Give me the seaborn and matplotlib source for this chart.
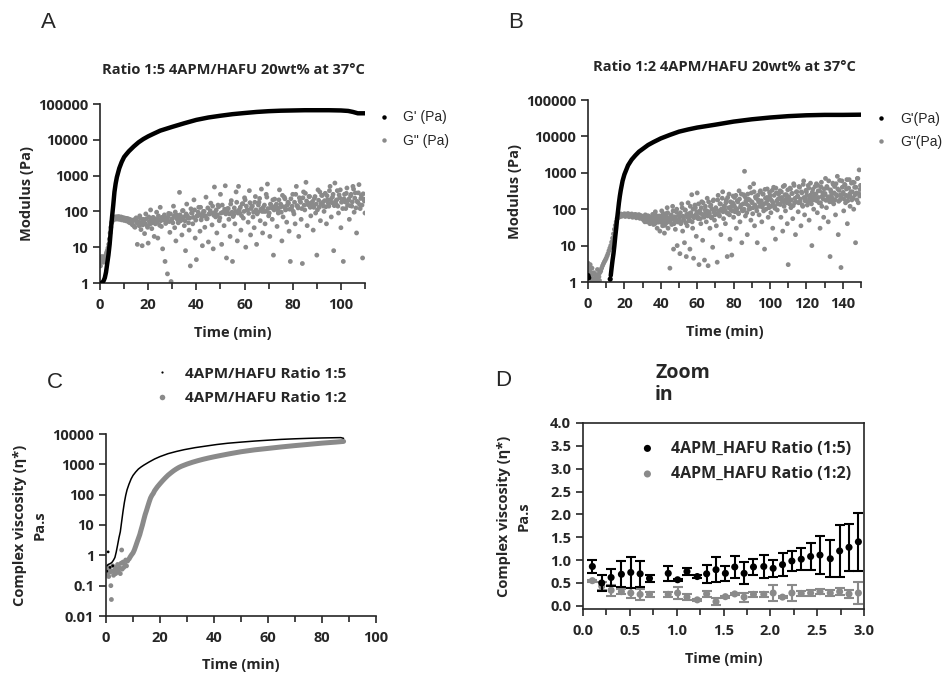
import numpy as np
import pandas as pd
import seaborn as sns
import matplotlib.pyplot as plt
from matplotlib.lines import Line2D
from matplotlib.ticker import MultipleLocator

# ---------------- data ----------------
# Panel A: ratio 1:5
a_gp_t = [0.5, 1.0, 1.5, 2.0, 2.5, 3.0, 3.5, 4.0, 4.5, 5.0, 5.5, 6.0, 6.5, 7.0, 7.5, 8.0,
          9.0, 10, 11, 12, 14, 16, 18, 20, 22, 25, 30, 35, 40, 45, 50, 55, 60, 65,
          70, 75, 80, 85, 90, 95, 100, 103, 105, 107, 110]
a_gp_v = [1.0, 1.05, 1.15, 1.4, 2.0, 3.5, 6, 12, 30, 70, 150, 350, 600, 900, 1200, 1600,
          2400, 3300, 4000, 4800, 6500, 8500, 10500, 12500, 14500, 18000, 23000, 29000,
          36000, 42000, 47000, 52000, 56000, 60000, 63000, 65000, 66000, 67000, 67000,
          67000, 66000, 64000, 60000, 55000, 55000]

a_gpp_early_t = [0.0, 0.3, 0.6, 0.9, 1.2, 1.5, 1.8, 2.1, 2.4, 2.7, 3.0, 3.3, 3.6, 3.9, 4.2,
                 4.5, 4.8, 0.2, 0.8, 1.4, 2.0]
a_gpp_early_v = [3.5, 4.5, 4.0, 5.0, 4.5, 5.0, 4.2, 5.5, 6.0, 7.0, 8.0, 9.5, 12, 17, 25,
                 36, 48, 3.0, 5.5, 3.8, 4.8]
# plateau, every 0.25 min from 5 min
a_gpp_plateau_v = [52, 62, 58, 70, 60, 68, 63, 71, 61, 69, 64, 72, 60, 68, 62, 70,
                   58, 67, 60, 66, 56, 65, 58, 64, 54, 63, 55, 62, 50, 60, 48, 58]
# scattered part, every 0.5 min from 13 min
a_gpp_scatter_v = [
    50, 42, 58, 36, 66, 12, 47, 75, 31, 11,
    60, 24, 85, 40, 13, 52, 110, 33, 68, 20,
    45, 95, 18, 57, 130, 38, 9, 72, 4, 50,
    1.8, 88, 26, 1.1, 62, 140, 35, 15, 78, 48,
    340, 55, 22, 105, 40, 8, 160, 66, 30, 3,
    90, 45, 210, 18, 4.5, 75, 130, 28, 58, 11,
    100, 36, 250, 63, 14, 85, 170, 42, 9, 480,
    70, 25, 150, 55, 300, 12, 95, 40, 520, 5,
    120, 60, 20, 200, 4, 80, 45, 350, 15, 500,
    90, 30, 160, 65, 240, 10, 110, 50, 380, 22,
    140, 70, 35, 260, 12, 95, 180, 55, 420, 25,
    100, 45, 300, 580, 75, 20, 150, 60, 6, 220,
    130, 38, 90, 400, 160, 15, 70, 250, 110, 50,
    180, 28, 4, 120, 300, 85, 45, 500, 140, 20,
    200, 60, 3.5, 350, 110, 650, 40, 170, 260, 75,
    150, 30, 230, 90, 6, 400, 130, 55, 280, 180,
    100, 320, 45, 210, 140, 500, 70, 250, 8, 620,
    160, 380, 90, 240, 35, 190, 4, 300, 120, 450,
    200, 60, 270, 140, 500, 95, 330, 25, 180, 560,
    120, 280, 5, 220, 90]
# dense core of the cloud, every 0.5 min from 13.25 min
a_gpp_core_v = [
    45, 55, 38, 60, 48, 52, 40, 65, 50, 42,
    55, 46, 62, 36, 70, 44, 58, 48, 66, 52,
    60, 50, 75, 41, 55, 68, 58, 80, 46, 62,
    70, 52, 85, 60, 48, 75, 96, 65, 58, 72,
    80, 62, 105, 70, 55, 85, 75, 48, 65, 118,
    90, 68, 110, 57, 75, 95, 82, 130, 70, 88,
    100, 75, 62, 125, 85, 105, 90, 140, 78, 95,
    110, 80, 135, 66, 90, 150, 95, 115, 85, 100,
    120, 85, 160, 95, 72, 125, 100, 180, 90, 110,
    130, 76, 165, 100, 210, 140, 110, 88, 175, 120,
    140, 95, 180, 110, 85, 150, 230, 115, 100, 130,
    150, 100, 250, 120, 90, 160, 125, 210, 110, 140,
    160, 110, 210, 130, 95, 280, 135, 225, 115, 150,
    170, 115, 225, 140, 100, 180, 300, 145, 125, 240,
    180, 120, 240, 150, 320, 195, 155, 260, 130, 170,
    190, 130, 260, 160, 110, 205, 350, 165, 280, 140,
    200, 135, 275, 170, 380, 215, 175, 300, 145, 190,
    210, 140, 290, 400, 180, 120, 225, 185, 320, 150,
    220, 145, 300, 185, 420, 235, 125, 190, 330, 155,
    230, 150, 310, 195]

# Panel B: ratio 1:2
b_gp_dots_t = [0.0, 0.4, 12.2]
b_gp_dots_v = [1.5, 1.3, 1.2]
b_gp_t = [12.5, 13, 13.5, 14, 14.5, 15, 15.5, 16, 16.5, 17, 17.5, 18, 19, 20, 21, 22, 24,
          26, 28, 30, 33, 36, 40, 45, 50, 55, 60, 70, 80, 90, 100, 110, 120, 130, 140, 150]
b_gp_v = [1.5, 2.5, 4, 6, 10, 18, 30, 55, 90, 150, 230, 330, 600, 900, 1200, 1600, 2300,
          3000, 3800, 4500, 5800, 7000, 8800, 11000, 13500, 15500, 17500, 21000, 25500,
          29500, 33000, 36000, 38000, 39000, 39000, 39500]

# early part, every 0.5 min from 0 min
b_gpp_early_v = [3.3, 2.8, 2.2, 1.8, 1.5, 1.2, 1.0, 1.1, 1.3, 1.0, 1.2, 1.6, 1.4, 1.8, 2.0,
                 2.4, 2.8, 3.2, 3.6, 4.0, 4.5, 5.2, 6.0, 7.2, 8.5, 10, 12.5, 16, 21, 28,
                 36, 45, 55]
b_gpp_extra_t = [0.2, 1.2, 2.2, 3.2, 4.4, 5.2, 6.3, 1.8]
b_gpp_extra_v = [2.0, 3.0, 2.4, 1.8, 1.6, 2.2, 1.1, 1.0]
# plateau, every 0.5 min from 16.5 min
b_gpp_plateau_v = [58, 70, 62, 74, 64, 72, 66, 75, 63, 73, 67, 76, 62, 71, 65, 74,
                   60, 70, 63, 72, 58, 69, 61, 71, 56, 67, 59, 64]
# scattered part, every 0.5 min from 30 min
b_gpp_scatter_v = [
    55, 62, 48, 70, 58, 45, 66, 52, 40, 60,
    50, 72, 38, 58, 85, 44, 30, 64, 55, 25,
    48, 90, 35, 60, 22, 75, 42, 110, 30, 55,
    2.4, 65, 38, 120, 8, 50, 28, 85, 10, 45,
    70, 6, 40, 140, 25, 60, 12, 95, 5, 35,
    150, 48, 8, 80, 250, 30, 4.5, 65, 110, 18,
    280, 55, 3, 90, 40, 160, 14, 70, 4, 120,
    45, 200, 2.8, 85, 30, 130, 60, 9, 180, 50,
    100, 35, 3.5, 240, 70, 140, 20, 90, 300, 55,
    120, 40, 180, 5, 75, 260, 15, 95, 5.5, 150,
    60, 210, 110, 30, 170, 80, 320, 45, 130, 12,
    90, 250, 1100, 65, 140, 20, 190, 100, 400, 50,
    160, 75, 500, 35, 220, 110, 12, 180, 70, 300,
    130, 45, 260, 90, 8, 200, 150, 360, 60, 110,
    240, 80, 170, 30, 400, 120, 15, 280, 95, 190,
    140, 320, 60, 210, 25, 160, 450, 90, 250, 40,
    3, 180, 380, 110, 270, 55, 500, 150, 20, 300,
    220, 85, 420, 160, 35, 280, 120, 600, 70, 190,
    300, 130, 450, 50, 240, 170, 10, 350, 100, 260,
    200, 500, 80, 320, 150, 30, 410, 120, 280, 60,
    250, 700, 110, 380, 45, 200, 5, 300, 160, 520,
    140, 420, 70, 250, 800, 20, 330, 180, 2.5, 600,
    260, 90, 480, 150, 360, 40, 220, 650, 120, 300,
    180, 550, 100, 400, 12, 280, 700, 150, 1200, 350,
    450]
# dense core of the cloud, every 0.5 min from 30.25 min
b_gpp_core_v = [
    52, 60, 45, 66, 57, 50, 63, 48, 58, 54,
    47, 62, 53, 40, 68, 50, 58, 44, 65, 52,
    60, 42, 75, 50, 36, 66, 55, 80, 45, 58,
    48, 70, 55, 90, 40, 62, 52, 100, 45, 68,
    58, 80, 46, 110, 64, 50, 95, 42, 72, 60,
    75, 52, 120, 66, 45, 100, 58, 130, 70, 85,
    62, 140, 80, 55, 110, 72, 150, 60, 95, 78,
    90, 65, 160, 75, 120, 58, 100, 170, 82, 70,
    110, 75, 180, 90, 65, 140, 100, 200, 85, 120,
    95, 150, 80, 210, 110, 70, 160, 120, 90, 230,
    130, 85, 240, 100, 160, 75, 190, 115, 260, 95,
    140, 100, 220, 170, 80, 260, 125, 180, 105, 280,
    150, 110, 300, 130, 200, 90, 240, 160, 120, 320,
    170, 115, 260, 140, 350, 100, 210, 180, 130, 290,
    190, 120, 330, 150, 240, 105, 380, 170, 140, 260,
    200, 135, 300, 170, 420, 120, 250, 190, 150, 340,
    220, 140, 360, 180, 270, 125, 450, 200, 160, 300,
    230, 150, 400, 190, 300, 130, 480, 210, 170, 330,
    240, 160, 380, 200, 520, 140, 290, 220, 180, 420,
    260, 170, 450, 210, 320, 150, 550, 230, 190, 360,
    270, 175, 420, 220, 600, 160, 340, 240, 200, 480,
    280, 180, 500, 230, 360, 165, 620, 250, 210, 400,
    290, 190, 460, 240, 650, 170, 380, 260, 220, 520,
    300, 200, 540, 250, 400, 180, 700, 270, 230, 450]

# Panel C: complex viscosity
c15_t = [0.3, 0.8, 1.3, 1.8, 2.3, 2.8, 3.3, 3.8, 4.3, 4.8, 5.3, 5.8, 6.3, 6.8, 7.3, 7.8,
         8.5, 9.3, 10, 11, 12, 13, 14, 16, 18, 20, 23, 26, 29, 33, 37, 41, 45, 50, 55,
         60, 65, 70, 75, 80, 85, 87, 88]
c15_v = [0.45, 0.5, 0.52, 0.55, 0.6, 0.7, 0.85, 1.3, 2.2, 3.8, 6.0, 13, 28, 55, 95, 145,
         220, 330, 430, 560, 700, 820, 940, 1200, 1500, 1800, 2250, 2650, 3050, 3550,
         4000, 4500, 4950, 5400, 5850, 6250, 6650, 6950, 7200, 7400, 7550, 7600, 7200]
c15_dots_t = [0.8, 0.3, 2.5, 1.5]
c15_dots_v = [1.3, 0.3, 0.45, 0.4]
c12_dots_t = [0.2, 0.5, 0.8, 1.0, 1.2, 1.5, 1.8, 2.0, 2.2, 2.5, 2.8, 3.0, 3.3, 3.6, 4.0,
              4.3, 4.6, 5.0, 5.3, 5.6, 6.0, 6.3, 6.6, 7.0, 7.3, 7.6, 8.0, 5.8]
c12_dots_v = [0.3, 0.25, 0.4, 0.2, 0.35, 0.28, 0.1, 0.035, 0.3, 0.45, 0.22, 0.3, 0.4,
              0.25, 0.35, 0.5, 0.3, 0.4, 0.25, 0.55, 0.35, 0.6, 0.4, 0.5, 0.7, 0.45,
              0.65, 1.5]
c12_t = [8.5, 9, 9.5, 10, 10.5, 11, 11.5, 12, 12.5, 13, 13.5, 14, 14.5, 15, 15.5, 16,
         16.5, 17, 17.5, 18, 19, 20, 21, 22, 23, 24, 25, 26, 27, 28, 30, 32, 34, 36, 38,
         40, 43, 46, 50, 55, 60, 65, 70, 75, 80, 85, 88]
c12_v = [0.75, 0.9, 1.05, 1.2, 1.5, 2.0, 2.7, 3.6, 4.8, 7, 10, 15, 22, 30, 42, 58, 78, 95,
         110, 135, 180, 230, 290, 360, 440, 520, 610, 700, 790, 870, 1020, 1170, 1320,
         1470, 1620, 1770, 2000, 2250, 2600, 3000, 3350, 3750, 4150, 4550, 5000, 5400,
         5700]

# Panel D: zoom on the first 3 minutes
d_t = [0.10, 0.20, 0.30, 0.41, 0.51, 0.61, 0.71, 0.91, 1.01, 1.11, 1.22, 1.32, 1.42, 1.52,
       1.62, 1.72, 1.82, 1.93, 2.03, 2.13, 2.23, 2.33, 2.43, 2.53, 2.64, 2.74, 2.84, 2.94]
d15_v = [0.86, 0.50, 0.62, 0.69, 0.73, 0.70, 0.60, 0.71, 0.57, 0.75, 0.64, 0.70, 0.79, 0.71,
         0.85, 0.71, 0.85, 0.86, 0.82, 0.90, 0.98, 1.02, 1.08, 1.11, 1.03, 1.20, 1.28, 1.40]
d15_e = [0.15, 0.18, 0.19, 0.28, 0.33, 0.29, 0.08, 0.17, 0.02, 0.08, 0.03, 0.20, 0.28, 0.17,
         0.24, 0.24, 0.17, 0.26, 0.18, 0.25, 0.21, 0.24, 0.30, 0.41, 0.41, 0.57, 0.52, 0.64]
d12_v = [0.55, 0.43, 0.34, 0.31, 0.28, 0.25, 0.25, 0.25, 0.28, 0.19, 0.13, 0.26, 0.09, 0.20,
         0.26, 0.19, 0.25, 0.25, 0.28, 0.19, 0.28, 0.27, 0.28, 0.31, 0.28, 0.31, 0.26, 0.28]
d12_e = [0.02, 0.08, 0.12, 0.06, 0.11, 0.12, 0.05, 0.06, 0.14, 0.06, 0.02, 0.06, 0.08, 0.02,
         0.02, 0.10, 0.06, 0.06, 0.18, 0.02, 0.17, 0.05, 0.07, 0.06, 0.06, 0.07, 0.09, 0.25]

# ---------------- style ----------------
sns.set_style("ticks")
plt.rcParams["font.family"] = ["Open Sans", "DejaVu Sans"]
plt.rcParams["font.weight"] = "bold"
plt.rcParams["axes.labelweight"] = "bold"
plt.rcParams["axes.linewidth"] = 1.2
plt.rcParams["xtick.major.width"] = 1.2
plt.rcParams["ytick.major.width"] = 1.2
plt.rcParams["xtick.minor.width"] = 1.2
plt.rcParams["xtick.major.size"] = 5
plt.rcParams["ytick.major.size"] = 5
plt.rcParams["xtick.minor.size"] = 4
plt.rcParams["xtick.major.pad"] = 6
plt.rcParams["xtick.labelsize"] = 10.5
plt.rcParams["ytick.labelsize"] = 10.5
plt.rcParams["axes.labelsize"] = 10.5

BLACK = "#000000"
GREY = "#8a8a8a"
W, H = 951, 673


def rect(l, t, r, b):
    return [l / W, 1 - b / H, (r - l) / W, (b - t) / H]


fig = plt.figure(figsize=(W / 100, H / 100), dpi=100)

# ---------------- A / B: moduli ----------------
def modulus_panel(ax, xmax, gp_t, gp_v, gpp_t, gpp_v, dots_t=None, dots_v=None):
    ax.set_yscale("log")
    sns.scatterplot(x=gpp_t, y=gpp_v, ax=ax, color=GREY, s=12, edgecolor="none",
                    linewidth=0, zorder=2)
    sns.lineplot(x=gp_t, y=gp_v, ax=ax, color=BLACK, lw=3.2, zorder=3)
    if dots_t is not None:
        sns.scatterplot(x=dots_t, y=dots_v, ax=ax, color=BLACK, s=14, edgecolor="none",
                        zorder=3)
    ax.set_xlim(0, xmax)
    ax.set_ylim(1, 1e5)
    decs = [1, 10, 100, 1000, 10000, 100000]
    ax.set_yticks(decs, [str(d) for d in decs])
    ax.minorticks_off()
    ax.xaxis.set_major_locator(MultipleLocator(20))
    ax.xaxis.set_minor_locator(MultipleLocator(10))
    ax.set_xlabel("Time (min)", labelpad=10)
    ax.set_ylabel("Modulus (Pa)", labelpad=2.5)
    sns.despine(ax=ax)


axA = fig.add_axes(rect(100, 104, 365, 283))
a_plat_t = [5.0 + 0.25 * i for i in range(len(a_gpp_plateau_v))]
a_scat_t = [13.0 + 0.5 * i for i in range(len(a_gpp_scatter_v))]
a_core_t = [13.25 + 0.5 * i for i in range(len(a_gpp_core_v))]
modulus_panel(axA, 110, a_gp_t, a_gp_v,
              a_gpp_early_t + a_plat_t + a_scat_t + a_core_t,
              a_gpp_early_v + a_gpp_plateau_v + a_gpp_scatter_v + a_gpp_core_v)

axB = fig.add_axes(rect(588, 100, 861, 282))
b_early_t = [0.5 * i for i in range(len(b_gpp_early_v))]
b_plat_t = [16.5 + 0.5 * i for i in range(len(b_gpp_plateau_v))]
b_scat_t = [30.0 + 0.5 * i for i in range(len(b_gpp_scatter_v))]
b_core_t = [30.25 + 0.5 * i for i in range(len(b_gpp_core_v))]
modulus_panel(axB, 150, b_gp_t, b_gp_v,
              b_early_t + b_gpp_extra_t + b_plat_t + b_scat_t + b_core_t,
              b_gpp_early_v + b_gpp_extra_v + b_gpp_plateau_v + b_gpp_scatter_v
              + b_gpp_core_v,
              b_gp_dots_t, b_gp_dots_v)

fig.text(233 / W, 1 - 70 / H, "Ratio 1:5 4APM/HAFU 20wt% at 37°C", ha="center",
         va="center", fontsize=10.5, fontweight="bold")
fig.text(724 / W, 1 - 67 / H, "Ratio 1:2 4APM/HAFU 20wt% at 37°C", ha="center",
         va="center", fontsize=10.5, fontweight="bold")

for labels, anchor in [(["G' (Pa)", 'G" (Pa)'], (365 / W, 1 - 98 / H)),
                       (["G'(Pa)", 'G"(Pa)'], (862 / W, 1 - 99 / H))]:
    handles = [Line2D([], [], ls="", marker="o", ms=3.2, color=BLACK, mec="none"),
               Line2D([], [], ls="", marker="o", ms=3.2, color=GREY, mec="none")]
    fig.legend(handles, labels, loc="upper left", bbox_to_anchor=anchor, frameon=False,
               prop={"family": "Liberation Sans", "weight": "normal", "size": 10},
               handlelength=1.0, handletextpad=0.85, labelspacing=0.65)

# ---------------- C: complex viscosity ----------------
axC = fig.add_axes(rect(106, 434, 376, 616))
axC.set_yscale("log")
sns.scatterplot(x=c12_dots_t, y=c12_dots_v, ax=axC, color=GREY, s=12, edgecolor="none")
sns.lineplot(x=c12_t, y=c12_v, ax=axC, color=GREY, lw=3.6)
sns.scatterplot(x=c15_dots_t, y=c15_dots_v, ax=axC, color=BLACK, s=4, edgecolor="none")
sns.lineplot(x=c15_t, y=c15_v, ax=axC, color=BLACK, lw=1.1)
axC.set_xlim(0, 100)
axC.set_ylim(0.01, 1e4)
c_decs = [0.01, 0.1, 1, 10, 100, 1000, 10000]
axC.set_yticks(c_decs, ["0.01", "0.1", "1", "10", "100", "1000", "10000"])
axC.minorticks_off()
axC.xaxis.set_major_locator(MultipleLocator(20))
axC.xaxis.set_minor_locator(MultipleLocator(10))
axC.set_xlabel("Time (min)", labelpad=9)
axC.set_ylabel("Complex viscosity (η*)\nPa.s", labelpad=4, linespacing=1.5)
sns.despine(ax=axC)
handles = [Line2D([], [], ls="", marker="o", ms=1.6, color=BLACK, mec="none"),
           Line2D([], [], ls="", marker="o", ms=4.0, color=GREY, mec="none")]
fig.legend(handles, ["4APM/HAFU Ratio 1:5", "4APM/HAFU Ratio 1:2"], loc="upper left",
           bbox_to_anchor=(139 / W, 1 - 353 / H), frameon=False,
           prop={"weight": "bold", "size": 11}, handlelength=1.2, handletextpad=0.9,
           labelspacing=0.7)

# ---------------- D: zoom in ----------------
axD = fig.add_axes(rect(583, 423, 864, 609))
axD.errorbar(d_t, d15_v, yerr=d15_e, fmt="none", ecolor=BLACK, elinewidth=1.5,
             capsize=3.5, capthick=1.5, zorder=3)
axD.errorbar(d_t, d12_v, yerr=d12_e, fmt="none", ecolor=GREY, elinewidth=1.5,
             capsize=3.5, capthick=1.5, zorder=2)
sns.scatterplot(x=d_t, y=d12_v, ax=axD, color=GREY, s=26, edgecolor="none", zorder=2,
                label="4APM_HAFU Ratio (1:2)")
sns.scatterplot(x=d_t, y=d15_v, ax=axD, color=BLACK, s=26, edgecolor="none", zorder=4,
                label="4APM_HAFU Ratio (1:5)")
axD.set_xlim(0, 3.0)
axD.set_ylim(-0.07, 4.0)
axD.xaxis.set_major_locator(MultipleLocator(0.5))
axD.xaxis.set_minor_locator(MultipleLocator(0.25))
axD.yaxis.set_major_locator(MultipleLocator(0.5))
axD.xaxis.set_major_formatter(plt.FormatStrFormatter("%.1f"))
axD.yaxis.set_major_formatter(plt.FormatStrFormatter("%.1f"))
axD.set_xlabel("Time (min)", labelpad=10)
axD.set_ylabel("Complex viscosity (η*)\nPa.s", labelpad=14, linespacing=1.5)
h, l = axD.get_legend_handles_labels()
axD.legend(h[::-1], l[::-1], loc="upper right", bbox_to_anchor=(1.018, 1.0),
           frameon=False, prop={"weight": "bold", "size": 11.5}, handletextpad=0.5,
           labelspacing=0.6, borderaxespad=0.7)
fig.text(655 / W, 1 - 363 / H, "Zoom\nin", ha="left", va="top", fontsize=14,
         fontweight="bold", linespacing=1.1)

# ---------------- panel letters ----------------
for letter, x, y in [("A", 48, 22), ("B", 516, 22), ("C", 55, 382), ("D", 503, 381)]:
    fig.text(x / W, 1 - y / H, letter, ha="center", va="center", fontsize=16,
             family="Liberation Sans", fontweight="normal")

fig.savefig("out.png", dpi=100)
